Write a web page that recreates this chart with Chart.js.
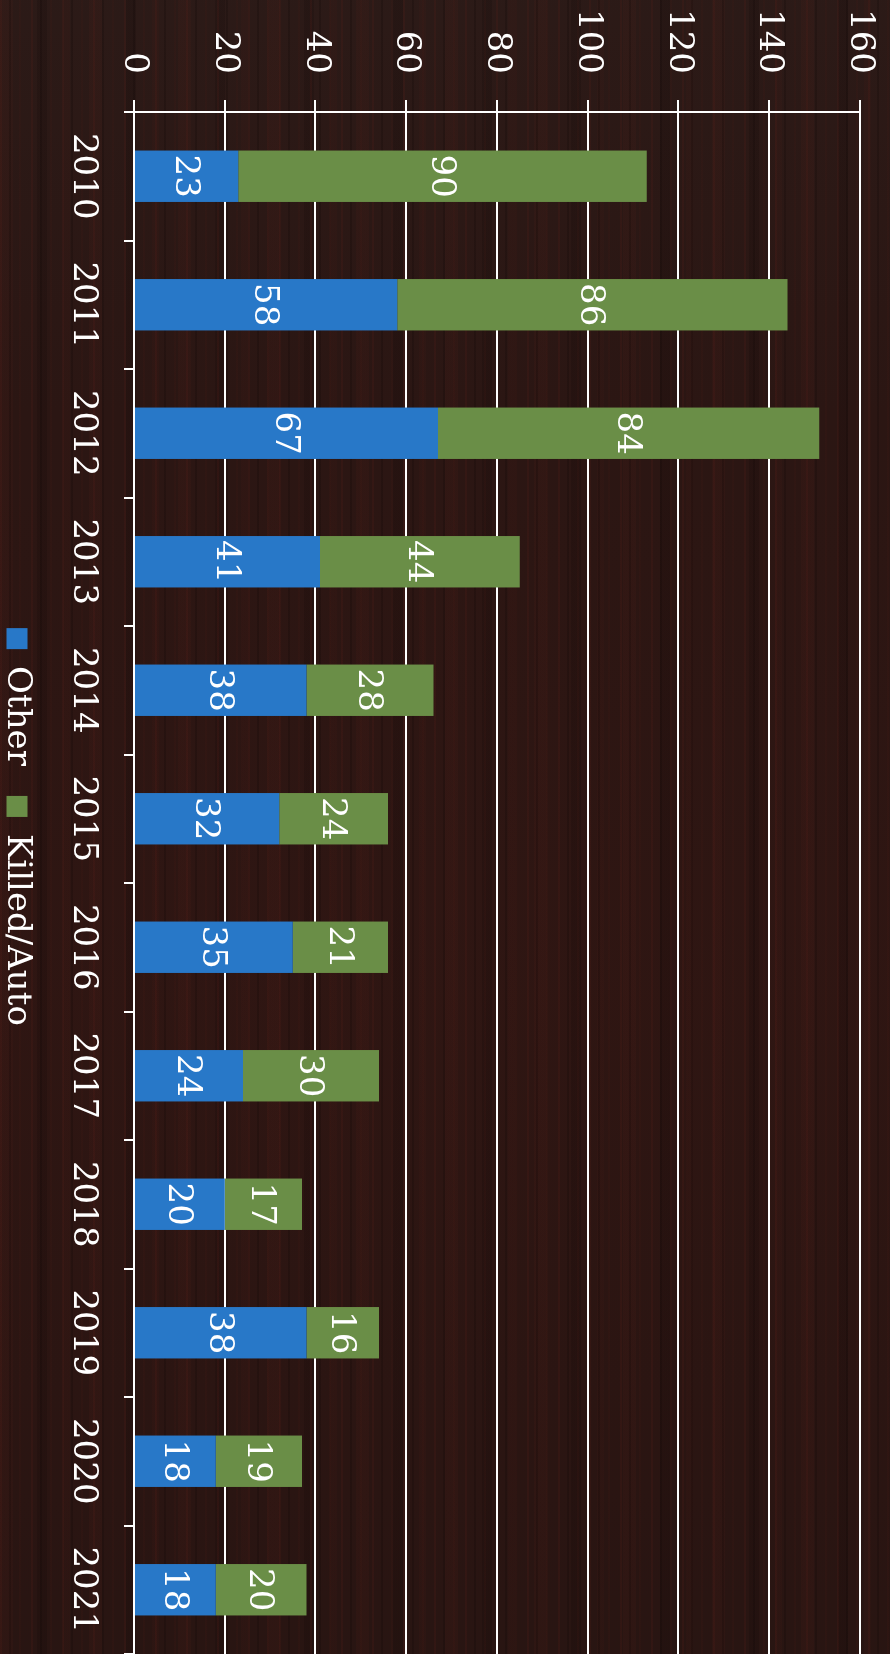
<!DOCTYPE html>
<html>
<head>
<meta charset="utf-8">
<script src="https://cdn.jsdelivr.net/npm/chart.js@4.4.1/dist/chart.umd.min.js"></script>
<style>
html, body { margin: 0; padding: 0; width: 890px; height: 1654px; overflow: hidden; }
body {
    background-color: #2b1613;
    background-image:
        repeating-linear-gradient(90deg, rgba(88,30,24,0.20) 0 2px, transparent 2px 9px, rgba(14,6,5,0.22) 9px 11px, transparent 11px 19px, rgba(72,26,20,0.15) 19px 21px, transparent 21px 31px),
        repeating-linear-gradient(90deg, rgba(95,34,26,0.11) 0 13px, transparent 13px 37px, rgba(10,4,4,0.16) 37px 47px, transparent 47px 63px, rgba(80,28,22,0.11) 63px 70px, transparent 70px 89px),
        linear-gradient(180deg, rgba(45,36,33,0.30) 0%, rgba(0,0,0,0) 25%, rgba(66,20,15,0.16) 60%, rgba(0,0,0,0.06) 100%);
}
#wrap {
    position: absolute; left: 0; top: 0;
    width: 1654px; height: 900px;
    transform-origin: 0 0;
    transform: translateX(890px) rotate(90deg);
}
</style>
</head>
<body>
<div id="wrap"><canvas id="chart"></canvas></div>
<script>
// Data
var years = ['2010', '2011', '2012', '2013', '2014', '2015', '2016', '2017', '2018', '2019', '2020', '2021'];
var otherCounts = [23, 58, 67, 41, 38, 32, 35, 24, 20, 38, 18, 18];
var killedCounts = [90, 86, 84, 44, 28, 24, 21, 30, 17, 16, 19, 20];
var axisMax = 160;
var axisStep = 20;

var colors = {
    blue: '#2878c8',
    green: '#6a8e47',
    white: '#ffffff'
};

Chart.defaults.font.family = "'DejaVu Serif', serif";
Chart.defaults.font.size = 34;
Chart.defaults.color = colors.white;

// values drawn in the middle of each stacked piece
var barValues = {
    id: 'barValues',
    afterDatasetsDraw: function(chart) {
        var ctx = chart.ctx;
        ctx.save();
        ctx.fillStyle = colors.white;
        ctx.font = "34px 'DejaVu Serif', serif";
        ctx.textAlign = 'center';
        ctx.textBaseline = 'middle';
        chart.data.datasets.forEach(function(ds, i) {
            var meta = chart.getDatasetMeta(i);
            meta.data.forEach(function(bar, j) {
                var p = bar.getProps(['x', 'y', 'base'], true);
                ctx.fillText(String(ds.data[j]), p.x, (p.y + p.base) / 2 + 2);
            });
        });
        ctx.restore();
    }
};

new Chart(document.getElementById('chart'), {
    type: 'bar',
    data: {
        labels: years,
        datasets: [{
            label: 'Other',
            data: otherCounts,
            backgroundColor: colors.blue,
            borderWidth: 0
        }, {
            label: 'Killed/Auto',
            data: killedCounts,
            backgroundColor: colors.green,
            borderWidth: 0
        }]
    },
    options: {
        responsive: true,
        maintainAspectRatio: false,
        devicePixelRatio: 1,
        animation: false,
        layout: { padding: { top: 30, right: 0, bottom: 0, left: 0 } },
        datasets: { bar: { categoryPercentage: 1, barPercentage: 0.4 } },
        plugins: {
            legend: {
                position: 'bottom',
                labels: { boxWidth: 21, boxHeight: 21, padding: 30, color: colors.white }
            },
            tooltip: { enabled: false }
        },
        scales: {
            x: {
                stacked: true,
                offset: true,
                grid: { drawOnChartArea: false, color: colors.white, lineWidth: 2, tickLength: 10, offset: true },
                border: { color: colors.white, width: 2 },
                ticks: { color: colors.white, padding: 21, maxRotation: 0, autoSkip: false },
                afterFit: function(scale) {
                    scale.height = 70;
                    scale.paddingLeft = 0;
                    scale.paddingRight = 0;
                }
            },
            y: {
                stacked: true,
                min: 0,
                max: axisMax,
                ticks: { stepSize: axisStep, padding: 26, color: colors.white },
                grid: { color: colors.white, lineWidth: 2, tickLength: 12 },
                border: { color: colors.white, width: 2 },
                afterFit: function(scale) {
                    scale.width = 112;
                    scale.paddingTop = 0;
                    scale.paddingBottom = 0;
                }
            }
        }
    },
    plugins: [barValues]
});
</script>
</body>
</html>
